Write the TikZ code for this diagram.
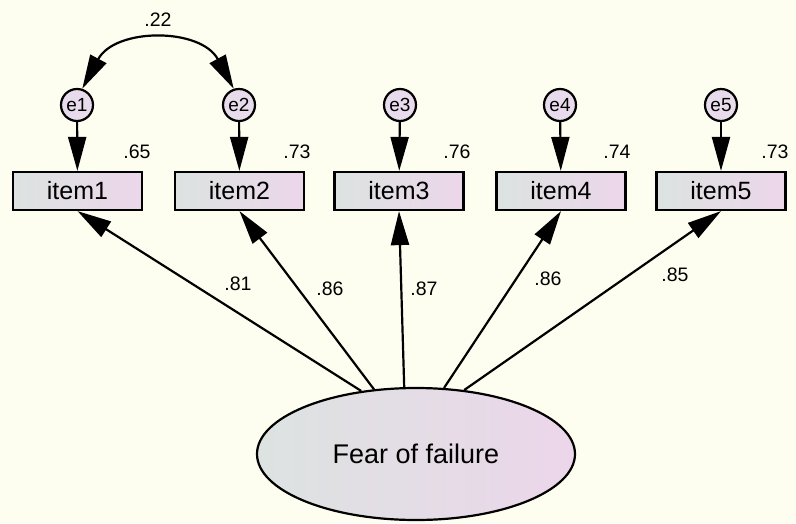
\documentclass[tikz,border=0pt]{standalone}
\usepackage{fontspec}
\setmainfont{Liberation Sans}
\usetikzlibrary{shapes.geometric,arrows.meta}
\definecolor{bgc}{HTML}{FEFEF0}
\definecolor{boxL}{HTML}{DCE3E1}
\definecolor{boxR}{HTML}{ECD6EA}
\definecolor{errc}{HTML}{E8DCEC}
\begin{document}
\begin{tikzpicture}[x=1pt,y=1pt,
  obs/.style={draw=black,line width=2.2pt,left color=boxL,right color=boxR,minimum width=129pt,minimum height=38pt,inner sep=0pt,font=\fontsize{25}{28}\selectfont},
  err/.style={circle,draw=black,line width=2.2pt,fill=errc,minimum size=32pt,inner sep=0pt,font=\fontsize{19}{21}\selectfont},
  lat/.style={ellipse,draw=black,line width=2.2pt,left color=boxL,right color=boxR,minimum width=318pt,minimum height=132pt,inner sep=0pt,font=\fontsize{27}{30}\selectfont},
  lab/.style={font=\fontsize{19.5}{22}\selectfont,inner sep=0pt},
  arr/.style={line width=2.2pt,-{Triangle[length=34pt,width=18pt]}},
  cov/.style={line width=2.2pt,{Triangle[length=34pt,width=18pt]}-{Triangle[length=34pt,width=18pt]}}
]
\fill[bgc] (0,0) rectangle (796,-523);
\useasboundingbox (0,0) rectangle (796,-523);

\node[obs] (i1) at (77.5,-191) {item1};
\node[obs] (i2) at (239.5,-191) {item2};
\node[obs] (i3) at (399,-191) {item3};
\node[obs] (i4) at (561,-191) {item4};
\node[obs] (i5) at (721,-191) {item5};

\node[err] (e1) at (77,-105) {e1};
\node[err] (e2) at (239,-105) {e2};
\node[err] (e3) at (400,-105) {e3};
\node[err] (e4) at (560,-105) {e4};
\node[err] (e5) at (721,-105) {e5};

\node[lat] (F) at (416,-454) {Fear of failure};

\foreach \k in {1,...,5}{\draw[arr] (e\k) -- (i\k);}

\draw[arr] (F.131) -- (i1.south);
\draw[arr] (F.123) -- (i2.south);
\draw[arr] (F.100) -- (i3.south);
\draw[arr] (F.67) -- (i4.south);
\draw[arr] (F.53) -- (i5.south);

\draw[cov] (e1.72) .. controls +(61.7:69.6) and +(118.3:69.6) .. (e2.108);

\node[lab] (c12) at (158,-20) {.22};
\node[lab] (r1) at (137,-152) {.65};
\node[lab] (r2) at (297,-152) {.73};
\node[lab] (r3) at (457,-152) {.76};
\node[lab] (r4) at (617,-152) {.74};
\node[lab] (r5) at (775,-152) {.73};

\node[lab] (l1) at (238,-284) {.81};
\node[lab] (l2) at (330,-289) {.86};
\node[lab] (l3) at (424,-289) {.87};
\node[lab] (l4) at (548,-279) {.86};
\node[lab] (l5) at (675,-275) {.85};
\end{tikzpicture}
\end{document}
